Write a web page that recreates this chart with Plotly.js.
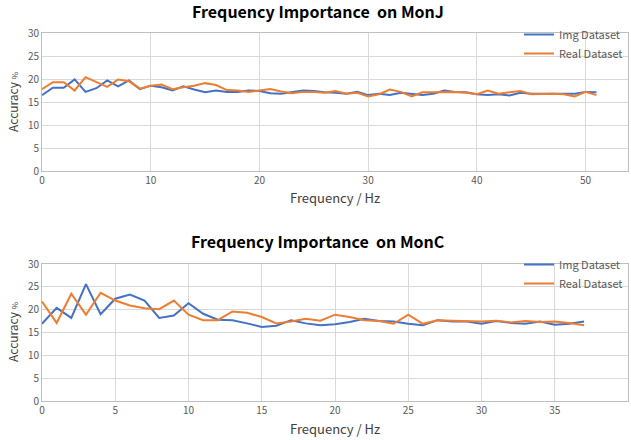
<!DOCTYPE html>
<html>
<head>
<meta charset="utf-8">
<script src="https://cdn.plot.ly/plotly-3.0.1.min.js"></script>
<style>html,body{margin:0;padding:0;background:#fff;}#chart{width:631px;height:440px;}</style>
</head>
<body>
<div id="chart"></div>
<script>
// Top chart: MonJ
const freqJ = Array.from({length: 52}, (_, i) => i);
const imgJ = [16.5,18.1,18.1,19.9,17.2,18.0,19.7,18.4,19.7,17.8,18.55,18.2,17.5,18.4,17.7,17.1,17.5,17.2,17.2,17.5,17.4,16.9,16.8,17.2,17.5,17.4,17.1,17.0,16.8,17.2,16.5,16.8,16.5,17.0,16.8,16.5,16.8,17.5,17.2,17.1,16.7,16.5,16.7,16.4,17.0,16.8,16.8,16.8,16.7,16.8,17.2,17.1];
const realJ = [17.8,19.3,19.3,17.5,20.4,19.3,18.3,19.9,19.5,17.9,18.55,18.8,17.8,18.2,18.55,19.1,18.7,17.6,17.5,17.2,17.5,17.8,17.3,16.9,17.2,17.2,17.0,17.4,16.8,17.0,16.2,16.7,17.7,17.2,16.2,17.1,17.1,17.2,17.2,17.0,16.7,17.5,16.8,17.1,17.4,16.7,16.8,16.8,16.7,16.2,17.2,16.5];
// Bottom chart: MonC
const freqC = Array.from({length: 38}, (_, i) => i);
const imgC = [16.9,20.4,18.2,25.6,19.0,22.4,23.3,22.0,18.2,18.7,21.4,19.1,17.8,17.7,17.0,16.2,16.5,17.7,17.0,16.6,16.8,17.3,18.0,17.5,17.4,16.9,16.6,17.7,17.4,17.4,16.9,17.5,17.1,16.9,17.4,16.7,16.9,17.4];
const realC = [21.8,17.1,23.5,18.9,23.7,22.0,20.9,20.3,20.1,22.0,18.9,17.7,17.7,19.6,19.3,18.4,17.0,17.4,18.0,17.6,18.9,18.4,17.7,17.5,16.9,18.9,16.9,17.7,17.6,17.5,17.4,17.6,17.2,17.5,17.3,17.4,17.1,16.6];
const yTicks = [0,5,10,15,20,25,30];
const names = ['Img Dataset','Real Dataset'];
const titles = ['Frequency Importance  on MonJ','Frequency Importance  on MonC'];

const blue = '#4472C4', orange = '#ED7D31';
const traces = [
  {x: freqJ, y: imgJ, name: names[0], mode:'lines', line:{color:blue,width:2}, xaxis:'x', yaxis:'y', legend:'legend'},
  {x: freqJ, y: realJ, name: names[1], mode:'lines', line:{color:orange,width:2}, xaxis:'x', yaxis:'y', legend:'legend'},
  {x: freqC, y: imgC, name: names[0], mode:'lines', line:{color:blue,width:2}, xaxis:'x2', yaxis:'y2', legend:'legend2'},
  {x: freqC, y: realC, name: names[1], mode:'lines', line:{color:orange,width:2}, xaxis:'x2', yaxis:'y2', legend:'legend2'}
];
const tickFont = {family:'Noto Sans CJK SC, sans-serif', size:10, color:'#595959'};
const ax = (extra) => Object.assign({
  showgrid:true, gridcolor:'#d9d9d9', gridwidth:1, zeroline:false,
  showline:true, linecolor:'#bfbfbf', linewidth:1, mirror:true,
  ticks:'', tickfont:tickFont, fixedrange:true
}, extra);
const H = 440, W = 631;
const layout = {
  width: W, height: H,
  margin:{l:42, r:3, t:0, b:0},
  paper_bgcolor:'#fff', plot_bgcolor:'#fff',
  font:{family:'Noto Sans CJK SC, sans-serif', color:'#404040'},
  xaxis: ax({domain:[0,1], range:[0,53.9], dtick:10, tick0:0, anchor:'y'}),
  yaxis: ax({domain:[(H-171)/H,(H-33)/H], range:[0,30], tickvals:yTicks, anchor:'x'}),
  xaxis2: ax({domain:[0,1], range:[0,40], dtick:5, tick0:0, anchor:'y2'}),
  yaxis2: ax({domain:[(H-401)/H,(H-264)/H], range:[0,30], tickvals:yTicks, anchor:'x2'}),
  legend: {x:1.0, y:(H-20)/H, xanchor:'right', yanchor:'top', bgcolor:'rgba(0,0,0,0)', font:{size:11,color:'#595959'}, tracegroupgap:0},
  legend2: {x:1.0, y:(H-250)/H, xanchor:'right', yanchor:'top', bgcolor:'rgba(0,0,0,0)', font:{size:11,color:'#595959'}, tracegroupgap:0},
  annotations: [
    {text:'<b>'+titles[0]+'</b>', xref:'paper', yref:'paper', x:(318-42)/586, y:(H-11)/H, showarrow:false, font:{size:16,color:'#000'}, xanchor:'center', yanchor:'middle'},
    {text:'<b>'+titles[1]+'</b>', xref:'paper', yref:'paper', x:(318-42)/586, y:(H-241)/H, showarrow:false, font:{size:16,color:'#000'}, xanchor:'center', yanchor:'middle'},
    {text:'Frequency / Hz', xref:'paper', yref:'paper', x:(335-42)/586, y:(H-198)/H, showarrow:false, font:{size:13,color:'#404040'}, xanchor:'center', yanchor:'middle'},
    {text:'Frequency / Hz', xref:'paper', yref:'paper', x:(335-42)/586, y:(H-428)/H, showarrow:false, font:{size:13,color:'#404040'}, xanchor:'center', yanchor:'middle'},
    {text:'Accuracy <span style="font-size:8px">%</span>', xref:'paper', yref:'paper', x:(12-42)/586, y:(H-102)/H, textangle:-90, showarrow:false, font:{size:12,color:'#404040'}, xanchor:'center', yanchor:'middle'},
    {text:'Accuracy <span style="font-size:8px">%</span>', xref:'paper', yref:'paper', x:(12-42)/586, y:(H-332)/H, textangle:-90, showarrow:false, font:{size:12,color:'#404040'}, xanchor:'center', yanchor:'middle'}
  ]
};
Plotly.newPlot('chart', traces, layout, {staticPlot:true, displayModeBar:false});
</script>
</body>
</html>
